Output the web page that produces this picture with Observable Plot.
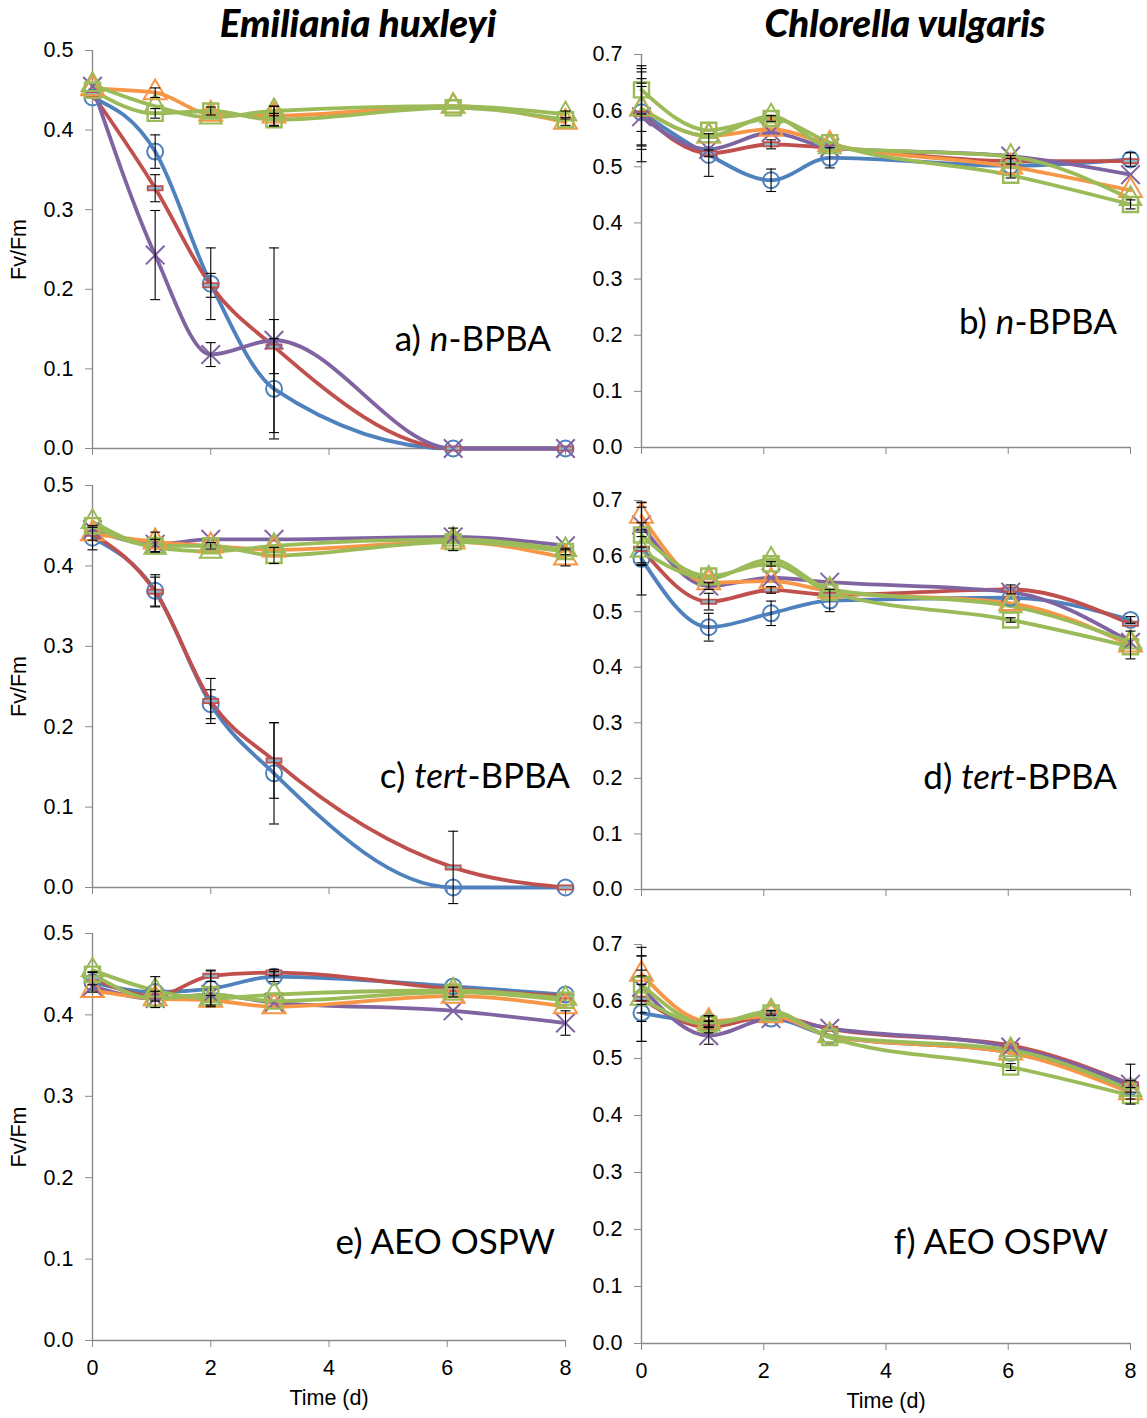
<!DOCTYPE html>
<html><head><meta charset="utf-8">
<script src="https://cdn.jsdelivr.net/npm/d3@7"></script>
<script src="https://cdn.jsdelivr.net/npm/@observablehq/plot@0.6"></script>
<style>
body{margin:0;background:#fff;}
#root{position:relative;width:1147px;height:1418px;overflow:hidden;background:#fff;font-family:"Liberation Sans",Arial,sans-serif;}
.title{position:absolute;top:0px;font-family:Lato,"Open Sans",sans-serif;font-weight:900;font-style:italic;font-size:38.5px;line-height:44px;transform:translateX(-50%);white-space:nowrap;color:#000;}
.ann{position:absolute;font-family:Lato,"Open Sans",sans-serif;font-size:35px;line-height:36px;white-space:nowrap;color:#000;}
.panel{position:absolute;}
</style></head><body><div id="root"></div>
<script>
// ---------- data ----------
const timeEh = [0, 1.06, 2.0, 3.07, 6.1, 8];
const timeCv = [0, 1.1, 2.12, 3.08, 6.04, 8];
const xTicks = [0, 2, 4, 6, 8];
const ticksEh = [0, 0.1, 0.2, 0.3, 0.4, 0.5];
const ticksCv = [0, 0.1, 0.2, 0.3, 0.4, 0.5, 0.6, 0.7];
const seriesKeys = ["circle", "dash", "cross", "triangle", "square", "triangle2"];
const seriesColors = ["#4F81BD", "#C0504D", "#8064A2", "#F79646", "#9BBB59", "#9BBB59"];
const speciesTitles = ["Emiliania huxleyi", "Chlorella vulgaris"];

// rows follow seriesKeys order; columns follow time arrays (0 = error bar hidden by marker)
const aMean = [
  [0.441, 0.373, 0.207, 0.075, 0, 0],
  [0.445, 0.327, 0.205, 0.128, 0, 0],
  [0.455, 0.243, 0.118, 0.136, 0, 0],
  [0.452, 0.447, 0.420, 0.418, 0.430, 0.410],
  [0.450, 0.421, 0.424, 0.413, 0.428, 0.413],
  [0.457, 0.430, 0.416, 0.424, 0.430, 0.420]
];
const aErr = [
  [0, 0.021, 0.045, 0.063, 0, 0],
  [0, 0.017, 0.015, 0.034, 0, 0],
  [0, 0.056, 0.015, 0.116, 0, 0],
  [0, 0.006, 0, 0.012, 0, 0.004],
  [0, 0.006, 0.005, 0.008, 0, 0],
  [0, 0, 0, 0.006, 0, 0.004]
];
const bMean = [
  [0.597, 0.521, 0.476, 0.516, 0.502, 0.513],
  [0.594, 0.524, 0.540, 0.534, 0.510, 0.510],
  [0.589, 0.531, 0.561, 0.534, 0.519, 0.486],
  [0.603, 0.555, 0.567, 0.540, 0.500, 0.458],
  [0.637, 0.565, 0.586, 0.543, 0.485, 0.433],
  [0.603, 0.555, 0.590, 0.535, 0.518, 0.443]
];
const bErr = [
  [0.060, 0.038, 0.020, 0.018, 0, 0.012],
  [0.055, 0.006, 0.008, 0, 0.005, 0],
  [0.080, 0, 0, 0, 0, 0],
  [0.072, 0, 0, 0, 0.020, 0],
  [0.043, 0, 0.005, 0, 0, 0.008],
  [0.040, 0, 0, 0, 0, 0]
];
const cMean = [
  [0.435, 0.369, 0.228, 0.142, 0, 0],
  [0.440, 0.368, 0.232, 0.158, 0.025, 0],
  [0.445, 0.427, 0.433, 0.433, 0.436, 0.425],
  [0.440, 0.430, 0.425, 0.420, 0.430, 0.410],
  [0.450, 0.425, 0.425, 0.413, 0.430, 0.418],
  [0.455, 0.423, 0.418, 0.425, 0.433, 0.420]
];
const cErr = [
  [0.015, 0.020, 0.018, 0.063, 0, 0],
  [0.008, 0.018, 0.028, 0.047, 0.045, 0],
  [0, 0, 0, 0, 0, 0],
  [0, 0.012, 0, 0, 0, 0.010],
  [0, 0.008, 0.004, 0.010, 0, 0.004],
  [0, 0, 0, 0, 0.014, 0]
];
const dMean = [
  [0.595, 0.472, 0.497, 0.520, 0.525, 0.485],
  [0.613, 0.518, 0.539, 0.530, 0.540, 0.478],
  [0.656, 0.546, 0.561, 0.553, 0.535, 0.445],
  [0.672, 0.552, 0.555, 0.537, 0.515, 0.440],
  [0.638, 0.564, 0.586, 0.535, 0.485, 0.437],
  [0.610, 0.560, 0.594, 0.540, 0.510, 0.445]
];
const dErr = [
  [0.065, 0.025, 0.022, 0.020, 0, 0.006],
  [0.030, 0.015, 0.006, 0, 0.008, 0],
  [0.040, 0.006, 0, 0, 0, 0],
  [0.025, 0, 0, 0, 0, 0.025],
  [0.050, 0, 0.004, 0, 0.004, 0],
  [0.025, 0, 0, 0, 0, 0]
];
const eMean = [
  [0.440, 0.428, 0.432, 0.447, 0.435, 0.425],
  [0.445, 0.423, 0.448, 0.452, 0.432, 0.423],
  [0.435, 0.420, 0.425, 0.415, 0.405, 0.390],
  [0.430, 0.420, 0.418, 0.410, 0.423, 0.410],
  [0.450, 0.420, 0.425, 0.417, 0.428, 0.418],
  [0.455, 0.430, 0.420, 0.425, 0.430, 0.420]
];
const eErr = [
  [0.012, 0.019, 0.022, 0.006, 0, 0],
  [0.008, 0.006, 0.007, 0.004, 0, 0],
  [0, 0, 0, 0, 0, 0.015],
  [0, 0, 0.006, 0, 0, 0],
  [0, 0, 0, 0, 0.006, 0],
  [0, 0, 0, 0, 0, 0]
];
const fMean = [
  [0.580, 0.565, 0.570, 0.540, 0.510, 0.450],
  [0.605, 0.555, 0.575, 0.552, 0.523, 0.455],
  [0.625, 0.540, 0.570, 0.553, 0.520, 0.455],
  [0.648, 0.565, 0.575, 0.540, 0.510, 0.440],
  [0.630, 0.560, 0.580, 0.537, 0.485, 0.435],
  [0.605, 0.560, 0.583, 0.540, 0.515, 0.445]
];
const fErr = [
  [0.050, 0.010, 0, 0, 0, 0],
  [0.040, 0.010, 0, 0, 0, 0.006],
  [0.030, 0.015, 0, 0, 0, 0.035],
  [0.047, 0.010, 0, 0, 0, 0],
  [0.050, 0.006, 0.004, 0, 0.006, 0.006],
  [0.075, 0, 0, 0, 0, 0]
];
const panelTexts = [
  ["a) ", "n", "-BPBA"], ["b) ", "n", "-BPBA"],
  ["c) ", "tert", "-BPBA"], ["d) ", "tert", "-BPBA"],
  ["e) AEO OSPW", "", ""], ["f) AEO OSPW", "", ""]
];

// ---------- drawing ----------
const axisGray = "#8a8a8a";
const dashSymbol = {draw(ctx, size) { const r = Math.sqrt(size / Math.PI); ctx.rect(-r, -r * 0.28, 2 * r, r * 0.56); }};
const capSymbol = {draw(ctx, size) { const r = Math.sqrt(size / Math.PI); ctx.moveTo(-r, 0); ctx.lineTo(r, 0); }};
const markerStyle = [
  {symbol: "circle", r: 8, fill: "none", strokeWidth: 2},
  {symbol: dashSymbol, r: 7.5, fill: "#8ab8cc", strokeWidth: 1.8},
  {symbol: "times", r: 8.5, fill: "none", strokeWidth: 2},
  {symbol: "triangle", r: 8.5, fill: "none", strokeWidth: 2},
  {symbol: "square", r: 8.5, fill: "none", strokeWidth: 2.4},
  {symbol: "triangle", r: 8, fill: "none", strokeWidth: 2}
];

const layouts = [
  {mean: aMean, err: aErr, time: timeEh, col: 0, row: 0, left: 0,   top: 40,  width: 575, height: 420, mt: 10, mb: 12, ml: 92, mr: 10},
  {mean: bMean, err: bErr, time: timeCv, col: 1, row: 0, left: 575, top: 44,  width: 572, height: 415, mt: 10, mb: 12, ml: 66, mr: 17},
  {mean: cMean, err: cErr, time: timeEh, col: 0, row: 1, left: 0,   top: 475, width: 575, height: 424, mt: 10, mb: 12, ml: 92, mr: 10},
  {mean: dMean, err: dErr, time: timeCv, col: 1, row: 1, left: 575, top: 490, width: 572, height: 411, mt: 10, mb: 12, ml: 66, mr: 17},
  {mean: eMean, err: eErr, time: timeEh, col: 0, row: 2, left: 0,   top: 923, width: 575, height: 492, mt: 10, mb: 75, ml: 92, mr: 10},
  {mean: fMean, err: fErr, time: timeCv, col: 1, row: 2, left: 575, top: 934, width: 572, height: 481, mt: 10, mb: 72, ml: 66, mr: 17}
];
const annPos = [
  {right: 551, cy: 338}, {right: 1117, cy: 321},
  {right: 570, cy: 775}, {right: 1117, cy: 776},
  {right: 555, cy: 1241}, {right: 1108, cy: 1241}
];

const root = document.getElementById("root");

speciesTitles.forEach((t, i) => {
  const d = document.createElement("div");
  d.className = "title";
  d.textContent = t;
  d.style.left = (i === 0 ? 358 : 905) + "px";
  root.appendChild(d);
});

layouts.forEach((L, p) => {
  const ymax = L.col === 0 ? 0.5 : 0.7;
  const ticks = L.col === 0 ? ticksEh : ticksCv;
  const bottom = L.row === 2;
  const rows = [];
  L.mean.forEach((vals, s) => vals.forEach((v, i) => rows.push({s, t: L.time[i], v, e: L.err[s][i]})));
  const errRows = rows.filter(d => d.e > 0);
  const marks = [
    Plot.ruleX([0], {y1: 0, y2: ymax, stroke: axisGray, strokeWidth: 1.4}),
    Plot.ruleY([0], {x1: 0, x2: 8, stroke: axisGray, strokeWidth: 1.4}),
    Plot.axisY({ticks, tickFormat: d3.format(".1f"), tickSize: 7, tickPadding: 12, stroke: axisGray, fill: "#000", fontSize: 21.5,
      label: L.col === 0 ? "Fv/Fm" : null, labelAnchor: "center", labelArrow: "none", labelOffset: 82}),
    Plot.axisX({ticks: xTicks, tickSize: 7, tickPadding: 12, stroke: axisGray, fill: "#000", fontSize: 21.5,
      tickFormat: bottom ? d3.format("d") : () => "",
      label: bottom ? "Time (d)" : null, labelAnchor: "center", labelArrow: "none", labelOffset: 64})
  ];
  seriesKeys.forEach((k, s) => {
    marks.push(Plot.line(rows.filter(d => d.s === s), {x: "t", y: "v", stroke: seriesColors[s], strokeWidth: 3.8, curve: "monotone-x"}));
  });
  seriesKeys.forEach((k, s) => {
    const m = markerStyle[s];
    marks.push(Plot.dot(rows.filter(d => d.s === s), {x: "t", y: "v", symbol: m.symbol, r: m.r, fill: m.fill, stroke: seriesColors[s], strokeWidth: m.strokeWidth}));
  });
  marks.push(Plot.ruleX(errRows, {x: "t", y1: d => d.v - d.e, y2: d => d.v + d.e, stroke: "#000", strokeWidth: 1.1}));
  marks.push(Plot.dot(errRows, {x: "t", y: d => d.v + d.e, symbol: capSymbol, r: 5, stroke: "#000", strokeWidth: 1.1}));
  marks.push(Plot.dot(errRows, {x: "t", y: d => d.v - d.e, symbol: capSymbol, r: 5, stroke: "#000", strokeWidth: 1.1}));

  const svg = Plot.plot({
    width: L.width, height: L.height,
    marginTop: L.mt, marginBottom: L.mb, marginLeft: L.ml, marginRight: L.mr,
    x: {domain: [0, 8]},
    y: {domain: [0, ymax]},
    style: {fontFamily: "'Liberation Sans', Arial, sans-serif", fontSize: "21.5px", overflow: "visible", background: "transparent", color: "#000"},
    marks
  });
  svg.classList.add("panel");
  svg.style.left = L.left + "px";
  svg.style.top = L.top + "px";
  root.appendChild(svg);

  const a = document.createElement("div");
  a.className = "ann";
  const [pre, ital, post] = panelTexts[p];
  a.append(pre);
  if (ital) { const i = document.createElement("i"); i.textContent = ital; a.append(i); }
  if (post) a.append(post);
  a.style.right = (1147 - annPos[p].right) + "px";
  a.style.top = (annPos[p].cy - 19) + "px";
  root.appendChild(a);
});
</script></body></html>
